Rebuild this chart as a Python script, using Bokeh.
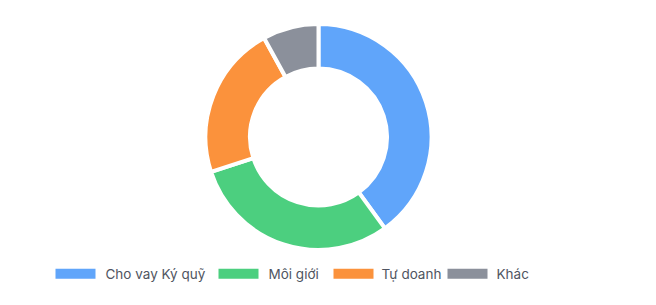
import math
from bokeh.plotting import figure
from bokeh.models import Range1d, ColumnDataSource
from bokeh.core.properties import value
from bokeh.embed import file_html
from bokeh.resources import INLINE

# Data
categories = ["Cho vay Ký quỹ", "Môi giới", "Tự doanh", "Khác"]
shares = [40, 30, 22, 8]
colors = ["#60a5fa", "#4ccf7f", "#fb923c", "#8b909b"]

W, H = 656, 305
p = figure(width=W, height=H, output_backend="svg", toolbar_location=None,
           x_range=Range1d(0, W), y_range=Range1d(0, H), min_border=0)
p.axis.visible = False
p.grid.visible = False
p.outline_line_color = None
p.background_fill_color = "white"
p.border_fill_color = "white"

# donut geometry (screen px)
cx, cy = 318, H - 136.5
r_out, r_in = 113, 68.5

total = sum(shares)
starts, ends = [], []
acc = 0.0
for s in shares:
    a0 = math.pi / 2 - 2 * math.pi * acc / total
    acc += s
    a1 = math.pi / 2 - 2 * math.pi * acc / total
    starts.append(a0)
    ends.append(a1)

src = ColumnDataSource(dict(cat=categories, val=shares, color=colors,
                            start=starts, end=ends))
p.annular_wedge(x=cx, y=cy, inner_radius=r_in, outer_radius=r_out,
                start_angle="start", end_angle="end", direction="clock",
                fill_color="color", line_color="white", line_width=4,
                source=src)

# legend (manual)
box_left = [55, 218, 333, 447]
text_left = [105, 268, 381, 496]
ly = H - 273.3
bx = [b + 20 for b in box_left]
lsrc = ColumnDataSource(dict(x=bx, tx=text_left, y=[ly] * 4, color=colors, label=categories))
p.rect(x="x", y="y", width=40, height=10, fill_color="color", line_color=None, source=lsrc)
p.text(x="tx", y="y", text="label", text_font=value("Inter"), text_font_size="13.5px",
       text_color="#4f5561", text_baseline="middle", text_align="left", source=lsrc)

open("out.html", "w").write(file_html(p, INLINE))
